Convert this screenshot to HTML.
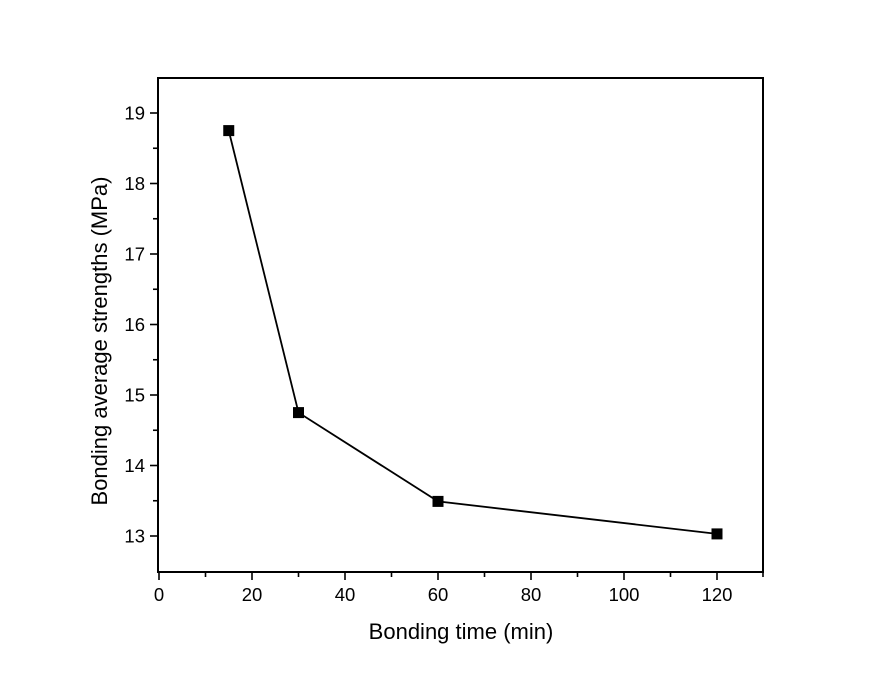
<!DOCTYPE html><html><head><style>body{margin:0;background:#fff}</style></head><body>
<svg width="887" height="686" xmlns="http://www.w3.org/2000/svg" font-family="Liberation Sans, Arial, sans-serif">
<rect width="887" height="686" fill="#fff"/>
<g stroke="#000" stroke-width="2" fill="none">
<rect x="158" y="78" width="605" height="494"/>
</g>
<g stroke="#000" stroke-width="1.6">
<line x1="159" y1="572" x2="159" y2="580"/><line x1="252" y1="572" x2="252" y2="580"/><line x1="345" y1="572" x2="345" y2="580"/><line x1="438" y1="572" x2="438" y2="580"/><line x1="531" y1="572" x2="531" y2="580"/><line x1="624" y1="572" x2="624" y2="580"/><line x1="717" y1="572" x2="717" y2="580"/>
<line x1="205.5" y1="572" x2="205.5" y2="577"/><line x1="298.5" y1="572" x2="298.5" y2="577"/><line x1="391.5" y1="572" x2="391.5" y2="577"/><line x1="484.5" y1="572" x2="484.5" y2="577"/><line x1="577.5" y1="572" x2="577.5" y2="577"/><line x1="670.5" y1="572" x2="670.5" y2="577"/><line x1="763" y1="572" x2="763" y2="577"/>
<line x1="150" y1="113" x2="158" y2="113"/><line x1="150" y1="183.5" x2="158" y2="183.5"/><line x1="150" y1="254" x2="158" y2="254"/><line x1="150" y1="324.5" x2="158" y2="324.5"/><line x1="150" y1="395" x2="158" y2="395"/><line x1="150" y1="465.5" x2="158" y2="465.5"/><line x1="150" y1="536" x2="158" y2="536"/>
<line x1="153" y1="148.25" x2="158" y2="148.25"/><line x1="153" y1="218.75" x2="158" y2="218.75"/><line x1="153" y1="289.25" x2="158" y2="289.25"/><line x1="153" y1="359.75" x2="158" y2="359.75"/><line x1="153" y1="430.25" x2="158" y2="430.25"/><line x1="153" y1="500.75" x2="158" y2="500.75"/>
</g>
<g font-size="18.5" text-anchor="end" fill="#000">
<text x="145" y="119.5">19</text><text x="145" y="190">18</text><text x="145" y="260.5">17</text><text x="145" y="331">16</text><text x="145" y="401.5">15</text><text x="145" y="472">14</text><text x="145" y="542.5">13</text>
</g>
<g font-size="18.5" text-anchor="middle" fill="#000">
<text x="159" y="601">0</text><text x="252" y="601">20</text><text x="345" y="601">40</text><text x="438" y="601">60</text><text x="531" y="601">80</text><text x="624" y="601">100</text><text x="717" y="601">120</text>
<text x="461" y="639" font-size="22">Bonding time (min)</text>
<text transform="translate(107,341) rotate(-90)" font-size="22">Bonding average strengths (MPa)</text>
</g>
<polyline points="228.75,130.6 298.5,412.6 438,501.4 717,533.9" fill="none" stroke="#000" stroke-width="1.8"/>
<g fill="#000">
<rect x="223.25" y="125.1" width="11" height="11"/><rect x="293" y="407.1" width="11" height="11"/><rect x="432.5" y="495.9" width="11" height="11"/><rect x="711.5" y="528.4" width="11" height="11"/>
</g>
</svg>
</body></html>
